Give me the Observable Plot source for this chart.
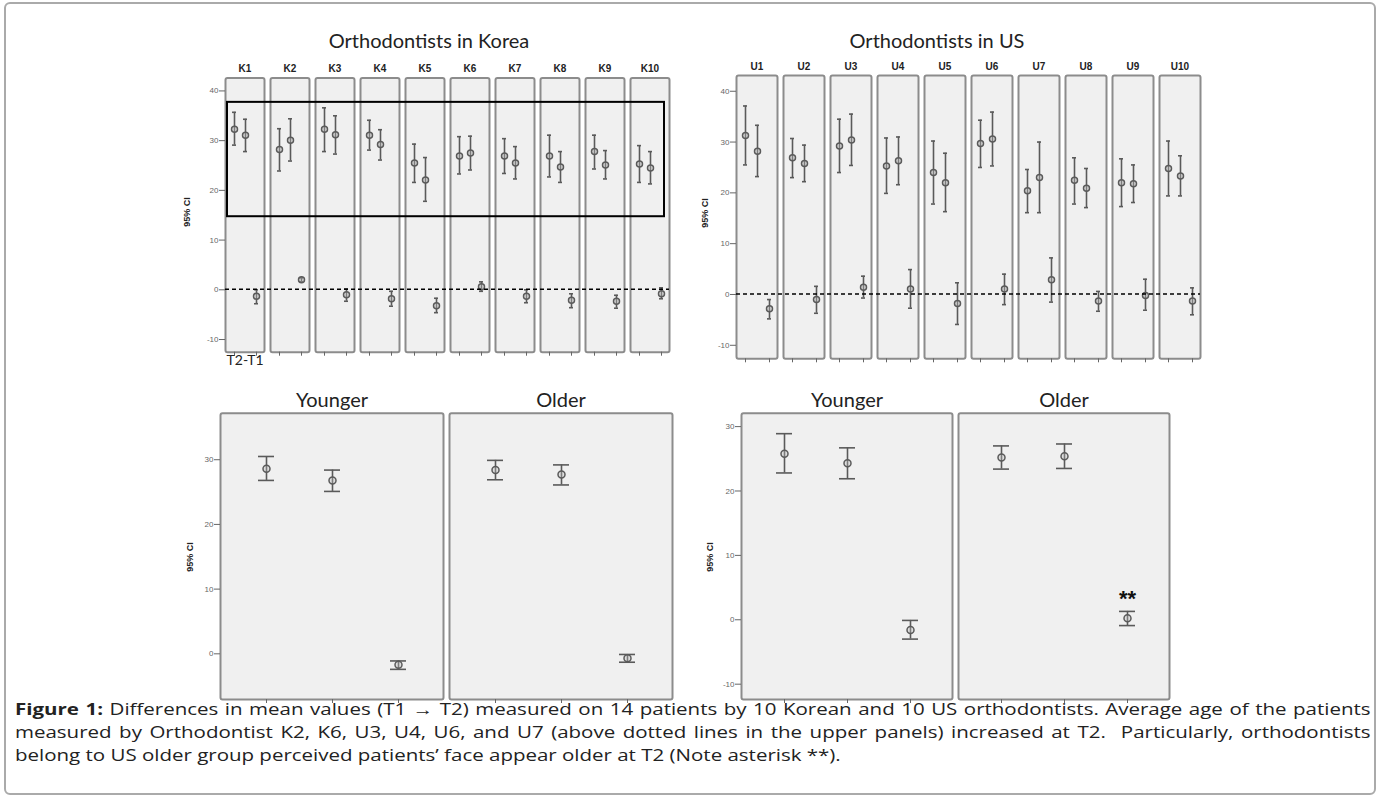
<!DOCTYPE html>
<html><head><meta charset="utf-8">
<script src="https://cdn.jsdelivr.net/npm/d3@7"></script>
<script src="https://cdn.jsdelivr.net/npm/@observablehq/plot@0.6"></script>
<style>
body{margin:0;background:#fff;width:1384px;height:802px;overflow:hidden;position:relative;font-family:"Open Sans",sans-serif;}
#border{position:absolute;left:4px;top:2px;width:1372px;height:793px;border:2px solid #aaa;border-radius:6px;box-sizing:border-box;}
.abs{position:absolute;}
.title{position:absolute;font-family:Lato,"Open Sans",sans-serif;font-size:20px;color:#222;transform:translate(-50%,-50%);white-space:nowrap;}
.ylab{position:absolute;font:bold 9px Arial,"Liberation Sans",sans-serif;color:#222;transform:translate(-50%,-50%) rotate(-90deg);white-space:nowrap;}
.cap{position:absolute;left:15px;width:1059px;font-size:16px;line-height:23px;color:#222;transform:scaleX(1.28);transform-origin:0 0;white-space:nowrap;}
.just{text-align:justify;text-align-last:justify;}
</style></head>
<body>
<div id="border"></div>
<div class="title" style="left:429px;top:40px">Orthodontists in Korea</div>
<div class="title" style="left:937px;top:40px">Orthodontists in US</div>
<div class="ylab" style="left:187px;top:212px">95% CI</div>
<div class="ylab" style="left:705px;top:213px">95% CI</div>
<div class="ylab" style="left:190px;top:557px">95% CI</div>
<div class="ylab" style="left:710px;top:557px">95% CI</div>
<div id="tl" class="abs" style="left:150px;top:50px"></div>
<div id="tr" class="abs" style="left:690px;top:50px"></div>
<div id="bl" class="abs" style="left:150px;top:380px"></div>
<div id="br" class="abs" style="left:690px;top:380px"></div>
<div class="cap just" style="top:698px"><b>Figure 1:</b> Differences in mean values (T1 → T2) measured on 14 patients by 10 Korean and 10 US orthodontists. Average age of the patients</div>
<div class="cap just" style="top:721px">measured by Orthodontist K2, K6, U3, U4, U6, and U7 (above dotted lines in the upper panels) increased at T2.&nbsp; Particularly, orthodontists</div>
<div class="cap" style="top:744px">belong to US older group perceived patients’ face appear older at T2 (Note asterisk **).</div>
<script>
// ---- data ----
const measures = ["T1", "T2", "T2-T1"];
const koreaIds = ["K1","K2","K3","K4","K5","K6","K7","K8","K9","K10"];
const usIds = ["U1","U2","U3","U4","U5","U6","U7","U8","U9","U10"];
const groupIds = ["Younger", "Older"];

// [T1, T2, T2-T1] per orthodontist
const koreaMean = [[32.3,31.1,-1.3],[28.2,30.1,2.0],[32.3,31.2,-1.0],[31.1,29.2,-1.8],[25.5,22.1,-3.2],[26.9,27.5,0.6],[26.9,25.5,-1.3],[26.9,24.7,-2.1],[27.8,25.1,-2.3],[25.3,24.5,-0.8]];
const koreaLow  = [[29.1,27.8,-2.8],[23.9,25.9,1.6],[27.8,27.3,-2.3],[28.1,26.1,-3.3],[21.6,17.8,-4.6],[23.3,24.1,-0.3],[23.4,22.3,-2.6],[22.7,21.6,-3.6],[24.3,22.3,-3.7],[21.6,21.3,-1.8]];
const koreaHigh = [[35.7,34.3,0.0],[32.4,34.4,2.4],[36.6,35.0,0.2],[34.1,32.2,-0.3],[29.3,26.6,-1.7],[30.8,30.9,1.6],[30.4,28.8,0.0],[31.1,27.8,-0.8],[31.1,28.0,-1.1],[29.0,27.8,0.4]];

const usMean = [[31.3,28.2,-2.8],[26.9,25.8,-1.0],[29.2,30.4,1.4],[25.3,26.3,1.1],[24.0,22.0,-1.8],[29.7,30.6,1.1],[20.4,23.0,2.9],[22.5,20.9,-1.3],[22.0,21.8,-0.2],[24.8,23.3,-1.3]];
const usLow  = [[25.5,23.2,-4.8],[23.0,22.2,-3.7],[24.0,25.4,-0.7],[19.9,21.6,-2.7],[17.8,16.3,-5.9],[25.0,25.3,-2.0],[16.1,16.1,-1.5],[17.8,17.1,-3.3],[17.3,18.1,-3.1],[19.4,19.4,-4.0]];
const usHigh = [[37.1,33.3,-1.0],[30.7,29.4,1.6],[34.5,35.5,3.6],[30.8,31.0,4.9],[30.2,27.8,2.3],[34.3,35.9,4.0],[24.6,30.0,7.2],[26.9,24.8,0.6],[26.7,25.5,3.0],[30.2,27.3,1.3]];

const koreaGroupMean = [[28.6,26.8,-1.7],[28.4,27.7,-0.7]];
const koreaGroupLow  = [[26.8,25.1,-2.4],[26.9,26.1,-1.3]];
const koreaGroupHigh = [[30.5,28.4,-1.1],[29.9,29.2,-0.1]];

const usGroupMean = [[25.8,24.3,-1.6],[25.2,25.4,0.25]];
const usGroupLow  = [[22.8,21.9,-3.0],[23.4,23.5,-0.9]];
const usGroupHigh = [[28.9,26.7,-0.1],[27.0,27.3,1.3]];

const koreaHighlight = [14.7, 37.7]; // boxed region of T1/T2 estimates
const zeroLine = 0;
const topTicks = [-10,0,10,20,30,40];
const koreaGroupTicks = [0,10,20,30];
const usGroupTicks = [-10,0,10,20,30];
const asteriskLabel = "**";
const diffLabel = "T2-T1";

function rows(ids, mean, low, high) {
  return ids.flatMap((id, i) => measures.map((m, j) => ({id, m, mean: mean[i][j], low: low[i][j], high: high[i][j]})));
}

const grey = "#5a5a5a";
const axisFont = "Arial, 'Liberation Sans', sans-serif";

function panel(o) {
  const data = rows(o.ids, o.mean, o.low, o.high);
  const marks = [
    Plot.frame({fill: "#f0f0f0", stroke: "#8c8c8c", strokeWidth: 2, rx: 2}),
    Plot.axisFx({anchor: "top", tickSize: 0, tickPadding: o.fxPad, fontSize: o.fxSize, fontWeight: o.fxWeight, fontFamily: o.fxFamily, label: null, fill: "#222"}),
    Plot.axisY({ticks: o.yTicks, tickSize: 6, tickPadding: 1, fontSize: 8, tickFormat: d => String(d), label: null, color: "#666"}),
    Plot.axisX({ticks: o.xTicks, tickSize: 4, tickFormat: () => "", label: null, color: "#666"}),
    Plot.ruleX(data, {fx: "id", x: "m", y1: "low", y2: "high", stroke: grey, strokeWidth: 1.6}),
    Plot.tickY(data, {fx: "id", x: "m", y: "low", insetLeft: -o.cap, insetRight: -o.cap, stroke: grey, strokeWidth: 1.6}),
    Plot.tickY(data, {fx: "id", x: "m", y: "high", insetLeft: -o.cap, insetRight: -o.cap, stroke: grey, strokeWidth: 1.6}),
    Plot.dot(data, {fx: "id", x: "m", y: "mean", r: o.r, stroke: grey, fill: "#bdbdbd", fillOpacity: 0.35, strokeWidth: 1.5}),
    ...(o.extra ? o.extra(data) : [])
  ];
  return Plot.plot({
    width: 540, height: 330,
    marginTop: o.mt, marginBottom: o.mb, marginLeft: o.ml, marginRight: o.mr,
    style: {background: "transparent", fontFamily: axisFont, overflow: "visible"},
    fx: {domain: o.ids, paddingInner: o.pad, paddingOuter: 0},
    x: {domain: measures, type: "band", paddingInner: 1, paddingOuter: 0.6667},
    y: {domain: o.yDomain},
    marks
  });
}

function overlay(plot, ids, box) {
  const fx = plot.scale("fx"), y = plot.scale("y");
  const x0 = fx.apply(ids[0]);
  const x1 = fx.apply(ids[ids.length - 1]) + fx.bandwidth;
  const svg = d3.select(plot);
  svg.append("line")
    .attr("x1", x0).attr("x2", x1)
    .attr("y1", y.apply(zeroLine)).attr("y2", y.apply(zeroLine))
    .attr("stroke", "#000").attr("stroke-width", 1.4).attr("stroke-dasharray", "4,3");
  if (box) {
    svg.append("rect")
      .attr("x", x0 + 2).attr("width", x1 - x0 - 7)
      .attr("y", y.apply(box[1])).attr("height", y.apply(box[0]) - y.apply(box[1]))
      .attr("fill", "none").attr("stroke", "#000").attr("stroke-width", 2);
  }
}

const tl = panel({ids: koreaIds, mean: koreaMean, low: koreaLow, high: koreaHigh,
  mt: 27.5, mb: 28.3, ml: 71, mr: 18, pad: 0.134, yDomain: [-12.55, 42.6], yTicks: topTicks,
  xTicks: ["T1", "T2-T1"], cap: 2, r: 3, fxPad: 6, fxSize: 10, fxWeight: "bold", fxFamily: axisFont,
  extra: () => [Plot.text([diffLabel], {fx: [koreaIds[0]], text: d => d, frameAnchor: "bottom-left", textAnchor: "start", dy: 13, dx: 1, fontSize: 14, fontFamily: "Lato, 'Open Sans', sans-serif", fill: "#222"})]
});
overlay(tl, koreaIds, koreaHighlight);
document.getElementById("tl").append(tl);

const tr = panel({ids: usIds, mean: usMean, low: usLow, high: usHigh,
  mt: 25, mb: 21.7, ml: 45, mr: 30, pad: 0.13, yDomain: [-12.66, 43.1], yTicks: topTicks,
  xTicks: ["T1", "T2-T1"], cap: 2, r: 3, fxPad: 6, fxSize: 10, fxWeight: "bold", fxFamily: axisFont});
overlay(tr, usIds, null);
document.getElementById("tr").append(tr);

const bl = panel({ids: groupIds, mean: koreaGroupMean, low: koreaGroupLow, high: koreaGroupHigh,
  mt: 32.7, mb: 11, ml: 70, mr: 17.7, pad: 0.027, yDomain: [-7.06, 37.19], yTicks: koreaGroupTicks,
  xTicks: measures, cap: 8, r: 3.5, fxPad: 6, fxSize: 20, fxWeight: "normal", fxFamily: "Lato, 'Open Sans', sans-serif"});
document.getElementById("bl").append(bl);

const br = panel({ids: groupIds, mean: usGroupMean, low: usGroupLow, high: usGroupHigh,
  mt: 32.7, mb: 11, ml: 50, mr: 60, pad: 0.0275, yDomain: [-12.38, 32.08], yTicks: usGroupTicks,
  xTicks: measures, cap: 8, r: 3.5, fxPad: 6, fxSize: 20, fxWeight: "normal", fxFamily: "Lato, 'Open Sans', sans-serif",
  extra: data => [Plot.text(data.filter(d => d.id === "Older" && d.m === "T2-T1"), {fx: "id", x: "m", y: "high", text: () => asteriskLabel, dy: -12, fontSize: 22, fontWeight: "bold", fill: "#111"})]
});
document.getElementById("br").append(br);
</script>
</body></html>
